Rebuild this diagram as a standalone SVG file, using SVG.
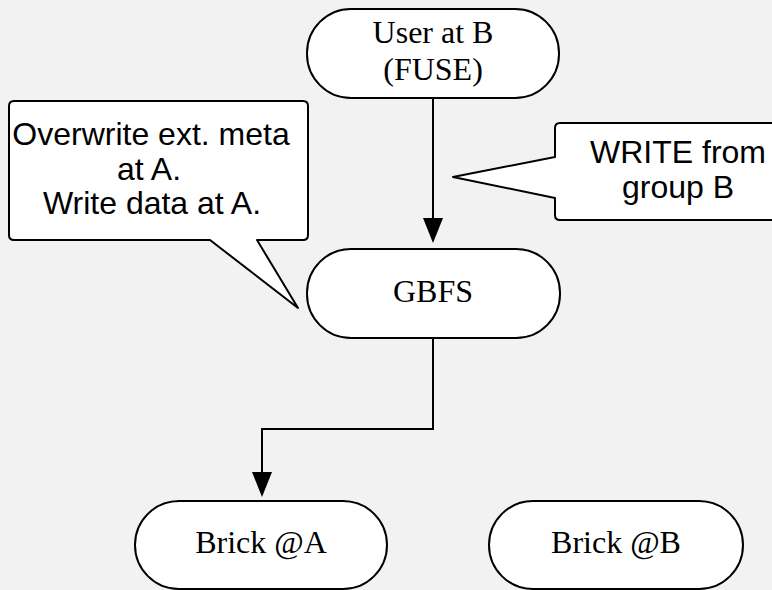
<svg xmlns="http://www.w3.org/2000/svg" width="772" height="590" viewBox="0 0 772 590">
  <defs>
    <style>
      .node { fill: #ffffff; stroke: #000000; stroke-width: 2; }
      .ntext { font-family: "Liberation Serif", "Times New Roman", serif; font-size: 32px; fill: #000000; text-anchor: middle; }
      .call { fill: #ffffff; stroke: #000000; stroke-width: 2; stroke-linejoin: round; }
      .ctext { font-family: "Liberation Sans", Arial, sans-serif; font-size: 32px; fill: #000000; text-anchor: middle; }
      .edge { fill: none; stroke: #000000; stroke-width: 2; }
      .head { fill: #000000; }
    </style>
  </defs>
  <rect x="0" y="0" width="772" height="590" fill="#f2f2f2"/>

  <g id="connectors">
    <path class="edge" d="M433,98 L433,218"/>
    <polygon class="head" points="423,218 443,218 433,243"/>
    <path class="edge" d="M433,338 L433,429 L262,429 L262,472"/>
    <polygon class="head" points="252,472 272,472 262,497"/>
  </g>

  <g id="node-user">
    <rect class="node" x="307" y="9" width="252" height="89" rx="44" ry="44"/>
    <text class="ntext" x="433" y="43">User at B</text>
    <text class="ntext" x="433" y="80">(FUSE)</text>
  </g>

  <g id="node-gbfs">
    <rect class="node" x="307" y="249" width="253" height="89" rx="44" ry="44"/>
    <text class="ntext" x="433" y="302">GBFS</text>
  </g>

  <g id="node-brick-a">
    <rect class="node" x="135" y="501" width="252" height="88" rx="44" ry="44"/>
    <text class="ntext" x="261" y="553">Brick @A</text>
  </g>

  <g id="node-brick-b">
    <rect class="node" x="489" y="501" width="254" height="88" rx="44" ry="44"/>
    <text class="ntext" x="616" y="553">Brick @B</text>
  </g>

  <g id="callout-left">
    <path class="call" d="M14,101 L303,101 Q308,101 308,106 L308,235 Q308,240 303,240 L257,240 L298,308 L210,240 L14,240 Q9,240 9,235 L9,106 Q9,101 14,101 Z"/>
    <text class="ctext" x="151" y="145">Overwrite ext. meta</text>
    <text class="ctext" x="149" y="180">at A.</text>
    <text class="ctext" x="152" y="214">Write data at A.</text>
  </g>

  <g id="callout-right">
    <path class="call" d="M560,123 L805,123 L805,220 L560,220 Q555,220 555,215 L555,198 L453,177 L555,157 L555,128 Q555,123 560,123 Z"/>
    <text class="ctext" x="678" y="163">WRITE from</text>
    <text class="ctext" x="678" y="198">group B</text>
  </g>
</svg>
